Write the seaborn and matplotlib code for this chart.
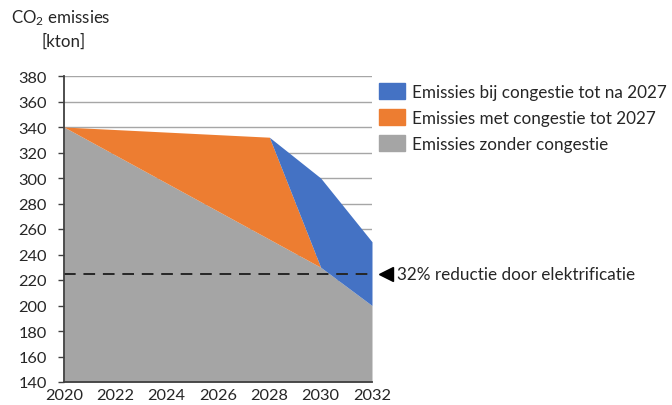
import matplotlib
matplotlib.use("Agg")
import matplotlib.pyplot as plt
import seaborn as sns
import pandas as pd
from matplotlib.patches import Patch

# Data
years = [2020, 2028, 2030, 2032]
zonder_congestie = [340, 252, 230, 200]
met_congestie_2027 = [340, 332, 230, 200]
congestie_na_2027 = [340, 332, 300, 250]
reductie_niveau = 225
labels = ["Emissies bij congestie tot na 2027",
          "Emissies met congestie tot 2027",
          "Emissies zonder congestie"]
annot_text = "32% reductie door elektrificatie"
y_ticks = list(range(140, 381, 20))
x_ticks = list(range(2020, 2033, 2))

df = pd.DataFrame({"jaar": years, "zonder": zonder_congestie,
                   "met": met_congestie_2027, "na": congestie_na_2027})

sns.set_theme(style="white")
plt.rcParams["font.family"] = ["Lato", "DejaVu Sans"]
plt.rcParams["mathtext.fontset"] = "custom"
plt.rcParams["mathtext.rm"] = "Lato"
plt.rcParams["mathtext.it"] = "Lato"

FS = 11.8
FS_TXT = 12.3
c_blue, c_orange, c_gray = "#4472C4", "#ED7D31", "#A5A5A5"
txt_col = "#262626"

fig = plt.figure(figsize=(6.72, 4.06), dpi=100)
ax = fig.add_axes([64/672, 1-383/406, 308/672, 306/406])

ymin = y_ticks[0]
for y in y_ticks[1:]:
    ax.axhline(y, color="#A6A6A6", lw=1.0, zorder=0)

ax.fill_between(df["jaar"], ymin, df["zonder"], color=c_gray, lw=0, zorder=2)
ax.fill_between(df["jaar"], df["zonder"], df["met"], color=c_orange, lw=0, zorder=2)
ax.fill_between(df["jaar"], df["met"], df["na"], color=c_blue, lw=0, zorder=2)
sns.lineplot(x=[years[0], years[-1]], y=[reductie_niveau, reductie_niveau], ax=ax,
             color="#262626", lw=1.4, dashes=False, zorder=4)
ax.lines[-1].set_dashes([6, 4])

ax.set_xlim(years[0], years[-1])
ax.set_ylim(ymin, y_ticks[-1])
ax.set_yticks(y_ticks)
ax.set_xticks(x_ticks)
ax.tick_params(axis="y", length=4.3, width=1, color="#404040", pad=8,
               labelsize=FS, labelcolor=txt_col, left=True, direction="out")
ax.tick_params(axis="x", length=0, pad=4, labelsize=FS, labelcolor=txt_col)
for s in ["top", "right"]:
    ax.spines[s].set_visible(False)
for s in ["left", "bottom"]:
    ax.spines[s].set_color("#404040")
    ax.spines[s].set_linewidth(1.3)
    ax.spines[s].set_zorder(5)
ax.set_xlabel("")
ax.set_ylabel("")

# Y-axis title
fig.text(61/672, 1-18/406, "CO$_2$ emissies", ha="center", va="center",
         fontsize=12.2, color=txt_col)
fig.text(64/672, 1-42/406, "[kton]", ha="center", va="center",
         fontsize=12.2, color=txt_col)

# Legend
handles = [Patch(color=c_blue), Patch(color=c_orange), Patch(color=c_gray)]
fig.legend(handles, labels, loc="upper left", bbox_to_anchor=(379/672, 1-84/406),
           frameon=False, fontsize=FS_TXT, handlelength=1.55, handleheight=1.1,
           handletextpad=0.4, labelspacing=0.52, borderpad=0, borderaxespad=0,
           labelcolor=txt_col)

# Annotation arrow and text
ax.plot([1.045], [reductie_niveau], marker="<", markersize=10, color="black",
        transform=ax.get_yaxis_transform(), clip_on=False, zorder=6)
ax.text(1.082, reductie_niveau, annot_text, transform=ax.get_yaxis_transform(),
        ha="left", va="center", fontsize=FS_TXT, color=txt_col, clip_on=False)

fig.savefig("out.png", dpi=100)
